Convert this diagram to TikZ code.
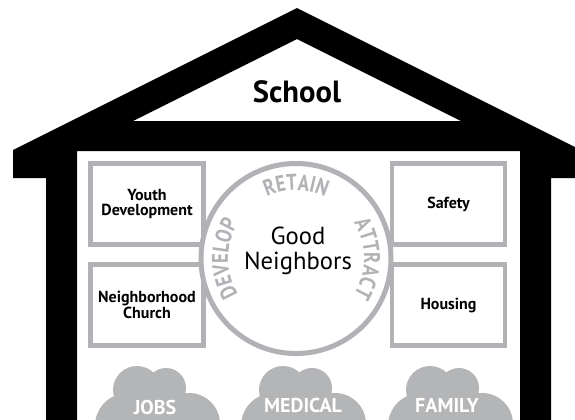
\documentclass[tikz,border=0pt]{standalone}
\usepackage{fontspec}
\setmainfont{PT Sans}
\newfontfamily\arcfont[FakeStretch=0.82]{PT Sans}
\usetikzlibrary{decorations.text}

\definecolor{ngray}{RGB}{176,178,181}
\definecolor{cloudgray}{RGB}{180,181,183}

\tikzset{every picture/.style={line width=0.75pt}}
\tikzset{
  topic/.style={draw=ngray, line width=3.4pt, minimum width=85pt, minimum height=61pt, inner sep=0pt, align=center, font=\fontsize{12}{11}\selectfont\bfseries},
  hub/.style={circle, draw=ngray, fill=white, line width=3.75pt, minimum size=142.5pt, inner sep=0pt},
  cloudlabel/.style={text=white, inner sep=0.75pt, font=\fontsize{15}{15}\selectfont\bfseries},
  ringword/.style={decorate, decoration={text along path, text align=center, text color=ngray}}
}

\begin{document}
\begin{tikzpicture}[x=0.75pt,y=0.75pt,yscale=-1,xscale=1]
\useasboundingbox (0,0) rectangle (575,419);
\clip (0,0) rectangle (575,419);
\fill[white] (0,0) rectangle (575,419);

%Roof, eaves and walls
\fill[black, even odd rule] (297,8) -- (581,150) -- (581,178) -- (551,178) -- (551,425) -- (520,425) -- (520,151) -- (77,151) -- (77,425) -- (46,425) -- (46,178) -- (13,178) -- (13,150) -- cycle
  (297,39) -- (461,121) -- (133,121) -- cycle;
% Text Node
\node (school) [font=\fontsize{23}{23}\selectfont\bfseries, inner sep=0.75pt] at (297,92) {School};

%Side boxes
\node (youth) [topic] at (147,204) {Youth\\Development};
\node (church) [topic] at (147,305) {Neighborhood\\Church};
\node (safety) [topic] at (448.5,204) {Safety};
\node (housing) [topic] at (448.5,305) {Housing};

%Centre ring
\node (hub) [hub] at (296,258.5) {};
\node (goodn) [align=center, inner sep=0.75pt, font=\fontsize{18.5}{19}\selectfont] at (298,251) {Good\\Neighbors};

%Words round the ring
\path[ringword, decoration={text={|\arcfont\bfseries\fontsize{17}{17}\selectfont|RETAIN}}] (hub.center) ++(200:68) arc[start angle=200, end angle=340, radius=68];
\path[ringword, decoration={text={|\arcfont\bfseries\fontsize{17}{17}\selectfont|DEVELOP}}] (hub.center) ++(110:68) arc[start angle=110, end angle=250, radius=68];
\path[ringword, decoration={text={|\arcfont\bfseries\fontsize{17}{17}\selectfont|ATTRACT}}] (hub.center) ++(-70:68) arc[start angle=-70, end angle=70, radius=68];

%Clouds: two shoulders, two bumps
\foreach \cx in {157,303,450}{
  \begin{scope}[shift={(\cx,419)}]
    \fill[cloudgray] (-29,7) circle[radius=33];
    \fill[cloudgray] (32,5) circle[radius=31];
    \fill[cloudgray] (-20,-29) circle[radius=24];
    \fill[cloudgray] (9,-31) circle[radius=20];
    \fill[cloudgray] (-29,-24) rectangle (33,12);
  \end{scope}
}
\node (jobs) [cloudlabel] at (155,407) {JOBS};
\node (medical) [cloudlabel] at (303,405) {MEDICAL};
\node (family) [cloudlabel] at (447,405) {FAMILY};

\end{tikzpicture}
\end{document}
